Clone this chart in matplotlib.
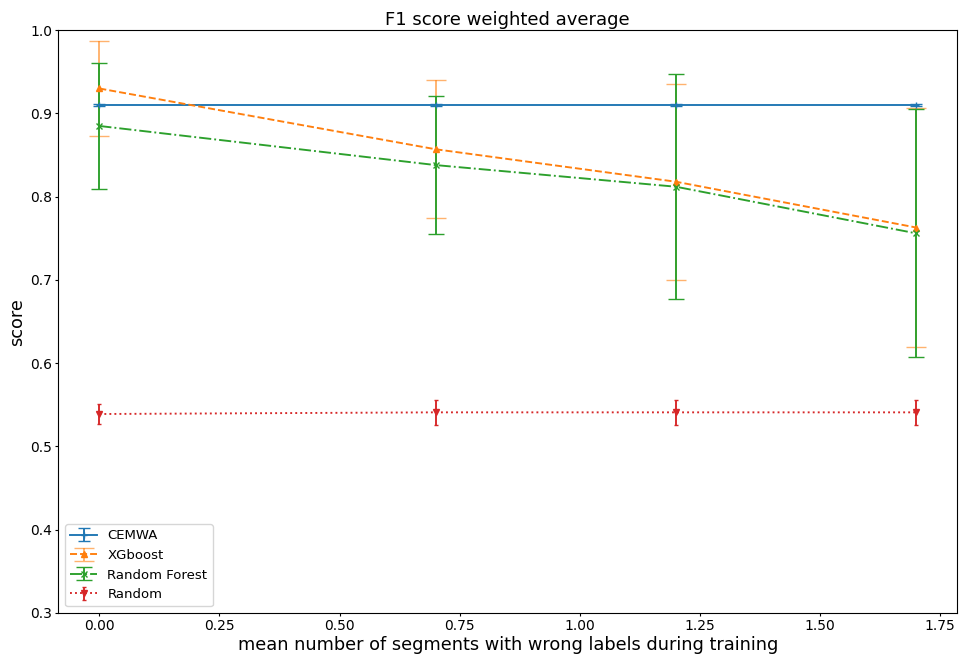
import numpy as np
import matplotlib
matplotlib.use("Agg")
import matplotlib.pyplot as plt

# mean number of wrongly labelled segments
noise = [0.0, 0.7, 1.2, 1.7]

cemwa = [0.910, 0.910, 0.910, 0.910]
cemwa_err = [0.001, 0.001, 0.001, 0.001]

xgb = [0.930, 0.857, 0.818, 0.763]
xgb_err = [0.057, 0.083, 0.118, 0.143]

rf = [0.885, 0.838, 0.812, 0.756]
rf_err = [0.076, 0.083, 0.135, 0.149]

rnd = [0.539, 0.541, 0.541, 0.541]
rnd_err = [0.012, 0.015, 0.015, 0.015]

s = 0.91  # scale from original points to this canvas

fig, ax = plt.subplots(figsize=(9.59, 6.57), dpi=100)
fig.subplots_adjust(left=0.061, right=0.998, top=0.954, bottom=0.067)

ax.errorbar(noise, cemwa, yerr=cemwa_err, label="CEMWA", marker="+", linestyle="-",
            capsize=4.5, lw=1.5 * s, ms=5, color="tab:blue")
ax.errorbar(noise, xgb, yerr=xgb_err, label="XGboost", marker="^", linestyle="--",
            capsize=7.5, lw=1.5 * s, ms=5, color="tab:orange", ecolor=(1.0, 0.5, 0.05, 0.6))
ax.errorbar(noise, rf, yerr=rf_err, label="Random Forest", marker="x", linestyle="-.",
            capsize=5.5, lw=1.5 * s, ms=5, color="tab:green")
ax.errorbar(noise, rnd, yerr=rnd_err, label="Random", marker="v", linestyle=":",
            capsize=1.5, lw=1.5 * s, ms=5, color="tab:red")

ax.set_ylim(0.3, 1.0)
ax.set_title("F1 score weighted average", fontsize=13, pad=4)
ax.set_xlabel("mean number of segments with wrong labels during training", fontsize=14 * s, labelpad=2)
ax.set_ylabel("score", fontsize=14 * s, labelpad=3)
ax.tick_params(labelsize=10, length=2.5, pad=2)
ax.legend(loc="lower left", fontsize=9.5)

fig.savefig("out.png", dpi=100)
